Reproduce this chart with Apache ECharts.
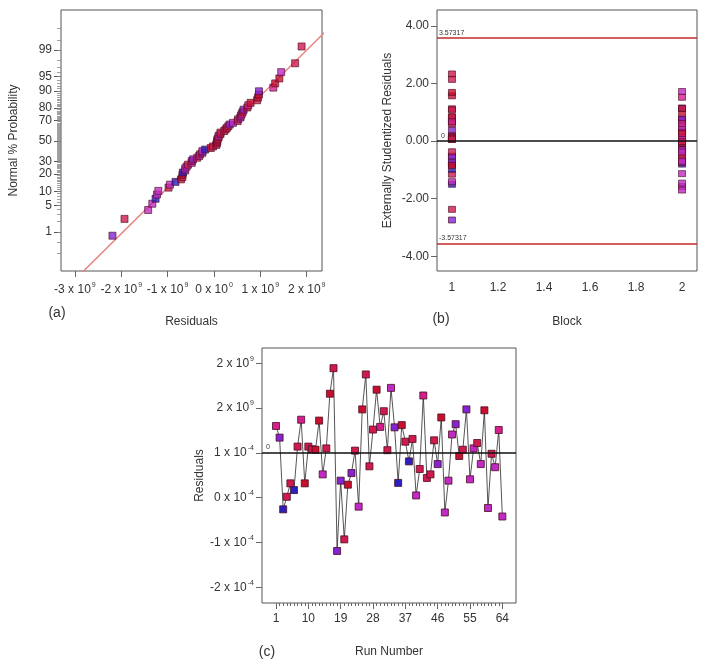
<!DOCTYPE html>
<html><head><meta charset="utf-8">
<script src="https://cdn.jsdelivr.net/npm/echarts@6/dist/echarts.min.js"></script>
<style>html,body{margin:0;padding:0;background:#fff}#c{width:709px;height:668px}</style>
</head><body><div id="c"></div>
<script>
// ---------------- DATA ----------------
// Residuals by run number (units of 1e9), runs 1..64
const residuals = [0.60,0.34,-1.26,-0.98,-0.68,-0.83,0.14,0.74,-0.68,0.14,
  0.08,0.07,0.72,-0.48,0.10,1.32,1.89,-2.19,-0.62,-1.93,
  -0.71,-0.45,0.05,-1.20,0.97,1.75,-0.30,0.52,1.41,0.58,
  0.93,0.06,1.45,0.57,-0.67,0.62,0.25,-0.19,0.31,-0.95,
  -0.36,1.28,-0.56,-0.48,0.28,-0.25,0.79,-1.33,-0.62,0.41,
  0.64,-0.07,0.07,0.97,-0.59,0.10,0.22,-0.25,0.95,-1.23,
  -0.02,-0.32,0.51,-1.42];
// Colour class of each run's point
const runColorCodes = "PVBCCBCPRCCRRMCRCVVCRVCMRCCCRPCCMVBRCBCMCPCCCVRMMMVRCVMMCMRMCMPM".split("");
const palette = {R:'#c8102e', C:'#cf1a4e', P:'#d3208e', M:'#c22ac6', V:'#8224d2', B:'#2a20bf'};
// Externally studentized residuals, block 1 (runs 1-32) and block 2 (runs 33-64)
const studBlock1 = [0.67,0.38,-1.50,-1.15,-0.78,-0.98,0.17,0.84,-0.80,0.17,
  0.09,0.06,0.84,-0.54,0.12,1.57,2.33,-2.74,-0.72,-2.37,
  -0.85,-0.52,0.06,-1.41,1.12,2.14,-0.37,0.60,1.69,0.67,1.08,0.07];
const studBlock2 = [1.72,0.68,-0.80,0.74,0.30,-0.22,0.37,-1.13,-0.43,1.52,
  -0.67,-0.57,0.33,-0.30,0.94,-1.58,-0.74,0.49,0.76,-0.08,
  0.08,1.15,-0.70,0.12,0.26,-0.30,1.13,-1.46,-0.02,-0.38,0.61,-1.70];
const blockValues = [1, 2];
// Normal plot: plotting positions (cumulative %) for 64 ordered residuals
const probPercent = [0.78,2.34,3.91,5.47,7.03,8.59,10.16,11.72,13.28,14.84,
  16.41,17.97,19.53,21.09,22.66,24.22,25.78,27.34,28.91,30.47,
  32.03,33.59,35.16,36.72,38.28,39.84,41.41,42.97,44.53,46.09,
  47.66,49.22,50.78,52.34,53.91,55.47,57.03,58.59,60.16,61.72,
  63.28,64.84,66.41,67.97,69.53,71.09,72.66,74.22,75.78,77.34,
  78.91,80.47,82.03,83.59,85.16,86.72,88.28,89.84,91.41,92.97,
  94.53,96.09,97.66,99.22];
// Fitted normal line endpoints [residual (1e9), cumulative %]
const fitLine = [[-3.0, 0.02], [2.5, 99.82]];
const limitValue = 3.57317;
// Tick labels
const probTickLabels = [1,5,10,20,30,50,70,80,90,95,99];
const residTicksA = [-3,-2,-1,0,1,2];
const blockTicks = [1,1.2,1.4,1.6,1.8,2];
const studTicks = [-4,-2,0,2,4];
const runTicks = [1,10,19,28,37,46,55,64];
const residTicksC = [2,1,0,-1,-2,-3];
const residTickBaseC = ["2 x 10","2 x 10","1 x 10","0 x 10","-1 x 10","-2 x 10"];
const residTickExpC = ["9","9","-4","-4","-4","-4"];

// ---------------- helpers ----------------
function normInv(p){ // Acklam
  const a=[-3.969683028665376e+01,2.209460984245205e+02,-2.759285104469687e+02,1.383577518672690e+02,-3.066479806614716e+01,2.506628277459239e+00];
  const b=[-5.447609879822406e+01,1.615858368580409e+02,-1.556989798598866e+02,6.680131188771972e+01,-1.328068155288572e+01];
  const c=[-7.784894002430293e-03,-3.223964580411365e-01,-2.400758277161838e+00,-2.549732539343734e+00,4.374664141464968e+00,2.938163982698783e+00];
  const d=[7.784695709041462e-03,3.224671290700398e-01,2.445134137142996e+00,3.754408661907416e+00];
  const pl=0.02425, ph=1-pl; let q,r;
  if(p<pl){q=Math.sqrt(-2*Math.log(p));return (((((c[0]*q+c[1])*q+c[2])*q+c[3])*q+c[4])*q+c[5])/((((d[0]*q+d[1])*q+d[2])*q+d[3])*q+1);}
  if(p<=ph){q=p-0.5;r=q*q;return (((((a[0]*r+a[1])*r+a[2])*r+a[3])*r+a[4])*r+a[5])*q/(((((b[0]*r+b[1])*r+b[2])*r+b[3])*r+b[4])*r+1);}
  q=Math.sqrt(-2*Math.log(1-p));return -(((((c[0]*q+c[1])*q+c[2])*q+c[3])*q+c[4])*q+c[5])/((((d[0]*q+d[1])*q+d[2])*q+d[3])*q+1);
}
const zOf = pct => normInv(pct/100);
const colorOf = i => palette[runColorCodes[i]];

const FONT = 'Liberation Sans, Arial, sans-serif';
const TXT = '#333';
const BORDER = '#555';
const symBorder = {borderColor:'#4a0c22', borderWidth:0.8};

// normal plot data: sort residuals with their run colours
const order = residuals.map((v,i)=>i).sort((a,b)=>residuals[a]-residuals[b]);
const normalData = order.map((ri,k)=>({value:[residuals[ri], zOf(probPercent[k])], itemStyle:{color:colorOf(ri), ...symBorder}}));
const fitData = fitLine.map(p=>[p[0], zOf(p[1])]);

const blockData = [];
studBlock1.forEach((v,i)=>blockData.push({value:[blockValues[0], v], itemStyle:{color:colorOf(i), ...symBorder}}));
studBlock2.forEach((v,i)=>blockData.push({value:[blockValues[1], v], itemStyle:{color:colorOf(i+32), ...symBorder}}));

const runData = residuals.map((v,i)=>({value:[i+1, v], itemStyle:{color:colorOf(i), ...symBorder}}));

const probLabelZ = probTickLabels.map(zOf);
const minorPct = [0.2,0.5];
for(let k=1;k<=99;k++) minorPct.push(k);
minorPct.push(99.5,99.8);
const minorZ = minorPct.map(zOf);
const runMinor = residuals.map((v,i)=>i+1);

const supRich = {
  b:{fontSize:12, color:TXT, fontFamily:FONT, lineHeight:16},
  s:{fontSize:7, color:TXT, fontFamily:FONT, verticalAlign:'top', lineHeight:16, padding:[0,0,0,1]}
};

const chart = echarts.init(document.getElementById('c'), null, {renderer:'canvas'});
const baseAxis = {
  axisLine:{show:false, onZero:false}, splitLine:{show:false},
  nameTextStyle:{fontSize:12, color:TXT, fontFamily:FONT},
  axisLabel:{fontSize:12, color:TXT, fontFamily:FONT},
  axisTick:{lineStyle:{color:'#666'}}
};
const option = {
  animation:false,
  backgroundColor:'#fff',
  textStyle:{fontFamily:FONT},
  grid:[
    {left:61, top:10, width:261, height:261, show:true, borderColor:BORDER, borderWidth:1, backgroundColor:'#fff'},
    {left:437, top:10, width:260, height:261, show:true, borderColor:BORDER, borderWidth:1, backgroundColor:'#fff'},
    {left:262, top:348, width:254, height:255, show:true, borderColor:BORDER, borderWidth:1, backgroundColor:'#fff'}
  ],
  xAxis:[
    {...baseAxis, type:'value', gridIndex:0, min:-3.3, max:2.33, position:'bottom',
      name:'Residuals', nameLocation:'middle', nameGap:45,
      axisTick:{show:true, length:6, customValues:residTicksA, lineStyle:{color:'#666'}},
      axisLabel:{margin:11, customValues:residTicksA, rich:supRich,
        formatter:v=>'{b|'+v+' x 10}{s|'+(v===0?'0':'9')+'}'}},
    {...baseAxis, type:'value', gridIndex:1, min:0.935, max:2.065, position:'bottom',
      name:'Block', nameLocation:'middle', nameGap:45,
      axisTick:{show:false},
      axisLabel:{margin:11, fontSize:12, color:TXT, customValues:blockTicks,
        formatter:v=>(Math.abs(v-Math.round(v))<1e-6? String(Math.round(v)) : v.toFixed(1))}},
    {...baseAxis, type:'value', gridIndex:2, min:-2.9, max:67.8, position:'bottom',
      name:'Run Number', nameLocation:'middle', nameGap:43,
      axisTick:{show:true, length:6, customValues:runTicks, lineStyle:{color:'#666'}},
      axisLabel:{margin:10, fontSize:12, color:TXT, customValues:runTicks}},
    {...baseAxis, type:'value', gridIndex:2, min:-2.9, max:67.8, position:'bottom',
      axisTick:{show:true, length:3, customValues:runMinor, lineStyle:{color:'#666'}},
      axisLabel:{show:false}}
  ],
  yAxis:[
    {...baseAxis, type:'value', gridIndex:0, min:-3.32, max:3.35, position:'left',
      name:'Normal % Probability', nameLocation:'middle', nameGap:41,
      axisTick:{show:true, length:7, customValues:probLabelZ, lineStyle:{color:'#555'}},
      axisLabel:{margin:9, fontSize:12, color:TXT, customValues:probLabelZ,
        formatter:v=>{let best=0,bd=1e9;probLabelZ.forEach((z,i)=>{const d=Math.abs(z-v);if(d<bd){bd=d;best=i;}});return String(probTickLabels[best]);}}},
    {...baseAxis, type:'value', gridIndex:0, min:-3.32, max:3.35, position:'left',
      axisTick:{show:true, length:4, customValues:minorZ, lineStyle:{color:'#888', width:0.8}},
      axisLabel:{show:false}},
    {...baseAxis, type:'value', gridIndex:1, min:-4.51, max:4.55, position:'left',
      name:'Externally Studentized Residuals', nameLocation:'middle', nameGap:43,
      axisTick:{show:true, length:6, customValues:studTicks, lineStyle:{color:'#666'}},
      axisLabel:{margin:8, fontSize:12, color:TXT, customValues:studTicks, formatter:v=>v.toFixed(2)}},
    {...baseAxis, type:'value', gridIndex:2, min:-3.35, max:2.34, position:'left',
      name:'Residuals', nameLocation:'middle', nameGap:56,
      axisTick:{show:true, length:6, customValues:residTicksC, lineStyle:{color:'#666'}},
      axisLabel:{margin:8, customValues:residTicksC, rich:supRich,
        formatter:v=>{const i=residTicksC.findIndex(t=>Math.abs(t-v)<1e-6);return '{b|'+residTickBaseC[i]+'}{s|'+residTickExpC[i]+'}';}}}
  ],
  graphic:[
    {type:'text', x:57, y:313, style:{text:'(a)', font:'14px '+FONT, fill:TXT, textAlign:'center', textVerticalAlign:'middle'}},
    {type:'text', x:441, y:319, style:{text:'(b)', font:'14px '+FONT, fill:TXT, textAlign:'center', textVerticalAlign:'middle'}},
    {type:'text', x:267, y:652, style:{text:'(c)', font:'14px '+FONT, fill:TXT, textAlign:'center', textVerticalAlign:'middle'}}
  ],
  series:[
    {type:'line', xAxisIndex:0, yAxisIndex:0, data:fitData, symbol:'none', silent:true, z:1,
      lineStyle:{color:'#e8837f', width:1.5}},
    {type:'scatter', xAxisIndex:0, yAxisIndex:0, data:normalData, symbol:'rect', symbolSize:7, z:3},
    {type:'scatter', xAxisIndex:1, yAxisIndex:2, data:blockData, symbol:'rect', symbolSize:[7,6], z:3,
      markLine:{silent:true, symbol:'none', z:4, animation:false,
        data:[
          {yAxis:limitValue, lineStyle:{color:'#c42a2a', width:1.5, type:'solid'},
            label:{formatter:String(limitValue), position:'insideStartTop', fontSize:7, color:TXT, distance:[2,2]}},
          {yAxis:-limitValue, lineStyle:{color:'#c42a2a', width:1.5, type:'solid'},
            label:{formatter:String(-limitValue), position:'insideStartTop', fontSize:7, color:TXT, distance:[2,2]}},
          {yAxis:0, lineStyle:{color:'#111', width:1.5, type:'solid'},
            label:{formatter:'0', position:'insideStartTop', fontSize:7, color:TXT, distance:[4,2]}}
        ]}},
    {type:'line', xAxisIndex:2, yAxisIndex:3, data:runData, symbol:'rect', symbolSize:7, z:3,
      lineStyle:{color:'#2a2a2a', width:0.8},
      markLine:{silent:true, symbol:'none', animation:false,
        data:[{yAxis:0, lineStyle:{color:'#111', width:1.5, type:'solid'},
          label:{formatter:'0', position:'insideStartTop', fontSize:7, color:TXT, distance:[4,2]}}]}}
  ]
};
chart.setOption(option);
</script></body></html>
